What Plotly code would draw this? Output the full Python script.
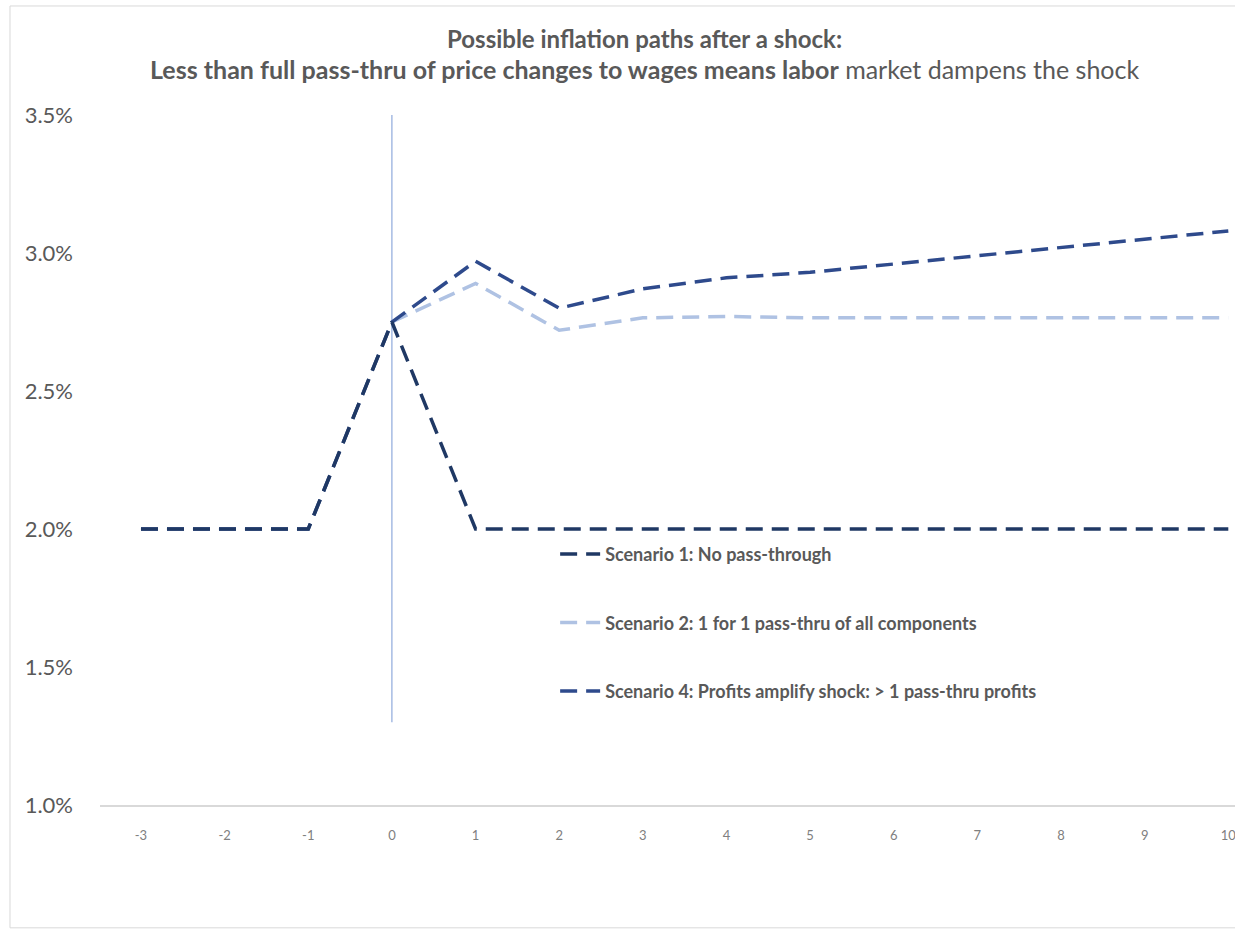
import plotly.graph_objects as go

# Periods relative to the shock
periods = [-3, -2, -1, 0, 1, 2, 3, 4, 5, 6, 7, 8, 9, 10]

# Inflation paths (percent)
scenario1 = [2.00, 2.00, 2.00, 2.75, 2.00, 2.00, 2.00, 2.00, 2.00, 2.00, 2.00, 2.00, 2.00, 2.00]
scenario2 = [None, None, None, 2.75, 2.89, 2.72, 2.765, 2.77, 2.765, 2.765, 2.765, 2.765, 2.765, 2.765]
scenario4 = [2.00, 2.00, 2.00, 2.75, 2.97, 2.80, 2.87, 2.91, 2.93, 2.96, 2.99, 3.02, 3.05, 3.08]

names = [
    "Scenario 1: No pass-through",
    "Scenario 2: 1 for 1 pass-thru of all components",
    "Scenario 4: Profits amplify shock: > 1 pass-thru profits",
]

# Marker for the shock period
shock_x = [0, 0]
shock_y = [1.3, 3.5]

y_ticks = [1.0, 1.5, 2.0, 2.5, 3.0, 3.5]
y_tick_text = ["1.0%", "1.5%", "2.0%", "2.5%", "3.0%", "3.5%"]

FONT = "Lato"
GREY = "#595959"
DASH = "17px,9px"

fig = go.Figure()

fig.add_trace(go.Scatter(
    x=shock_x, y=shock_y, mode="lines",
    line=dict(color="#8FAADC", width=1.2),
    showlegend=False, hoverinfo="skip",
))
fig.add_trace(go.Scatter(
    x=periods, y=scenario2, mode="lines", name=names[1],
    line=dict(color="#AFC2E3", width=3.5, dash=DASH),
    legendrank=2, legendgroup="s2",
))
fig.add_trace(go.Scatter(
    x=periods, y=scenario4, mode="lines", name=names[2],
    line=dict(color="#2E4A8C", width=3.5, dash=DASH),
    legendrank=3, legendgroup="s4",
))
fig.add_trace(go.Scatter(
    x=periods, y=scenario1, mode="lines", name=names[0],
    line=dict(color="#1F3864", width=3.5, dash=DASH),
    legendrank=1, legendgroup="s1",
))

fig.add_annotation(
    xref="paper", yref="paper", x=0.48, y=1.111, xanchor="center", yanchor="middle",
    text="<b>Possible inflation paths after a shock:</b>",
    showarrow=False, font=dict(family=FONT, size=24, color=GREY),
)
fig.add_annotation(
    xref="paper", yref="paper", x=0.48, y=1.066, xanchor="center", yanchor="middle",
    text="<b>Less than full pass-thru of price changes to wages means labor</b> market dampens the shock",
    showarrow=False, font=dict(family=FONT, size=25, color=GREY),
)

# Outer chart frame
fig.add_shape(
    type="rect", xref="paper", yref="paper",
    x0=-0.0793, x1=1.2, y0=-0.178, y1=1.158,
    line=dict(color="#D9D9D9", width=1), fillcolor="rgba(0,0,0,0)", layer="below",
)

fig.update_layout(
    width=1235, height=932,
    margin=dict(l=100, r=0, t=115, b=127),
    paper_bgcolor="white", plot_bgcolor="white",
    font=dict(family=FONT, color=GREY),
    hovermode=False,
    legend=dict(
        x=0.401, y=0.39, xanchor="left", yanchor="top",
        font=dict(family=FONT, size=18, color=GREY, weight="bold"),
        bgcolor="rgba(0,0,0,0)", tracegroupgap=42,
        itemwidth=40,
    ),
    xaxis=dict(
        range=[-3.49, 10.08], tickmode="array", tickvals=periods,
        ticktext=[str(p) for p in periods],
        showgrid=False, zeroline=False,
        showline=True, linecolor="#D9D9D9", linewidth=1.5,
        ticks="", tickfont=dict(family=FONT, size=13, color="#808080"),
        ticklabelstandoff=18, ticklabeloverflow="allow",
    ),
    yaxis=dict(
        range=[1.0, 3.5], tickmode="array", tickvals=y_ticks, ticktext=y_tick_text,
        showgrid=False, zeroline=False, showline=False, ticks="",
        tickfont=dict(family=FONT, size=22, color=GREY),
        ticklabelstandoff=26,
    ),
)

fig.write_html("out.html", config={"displayModeBar": False})
